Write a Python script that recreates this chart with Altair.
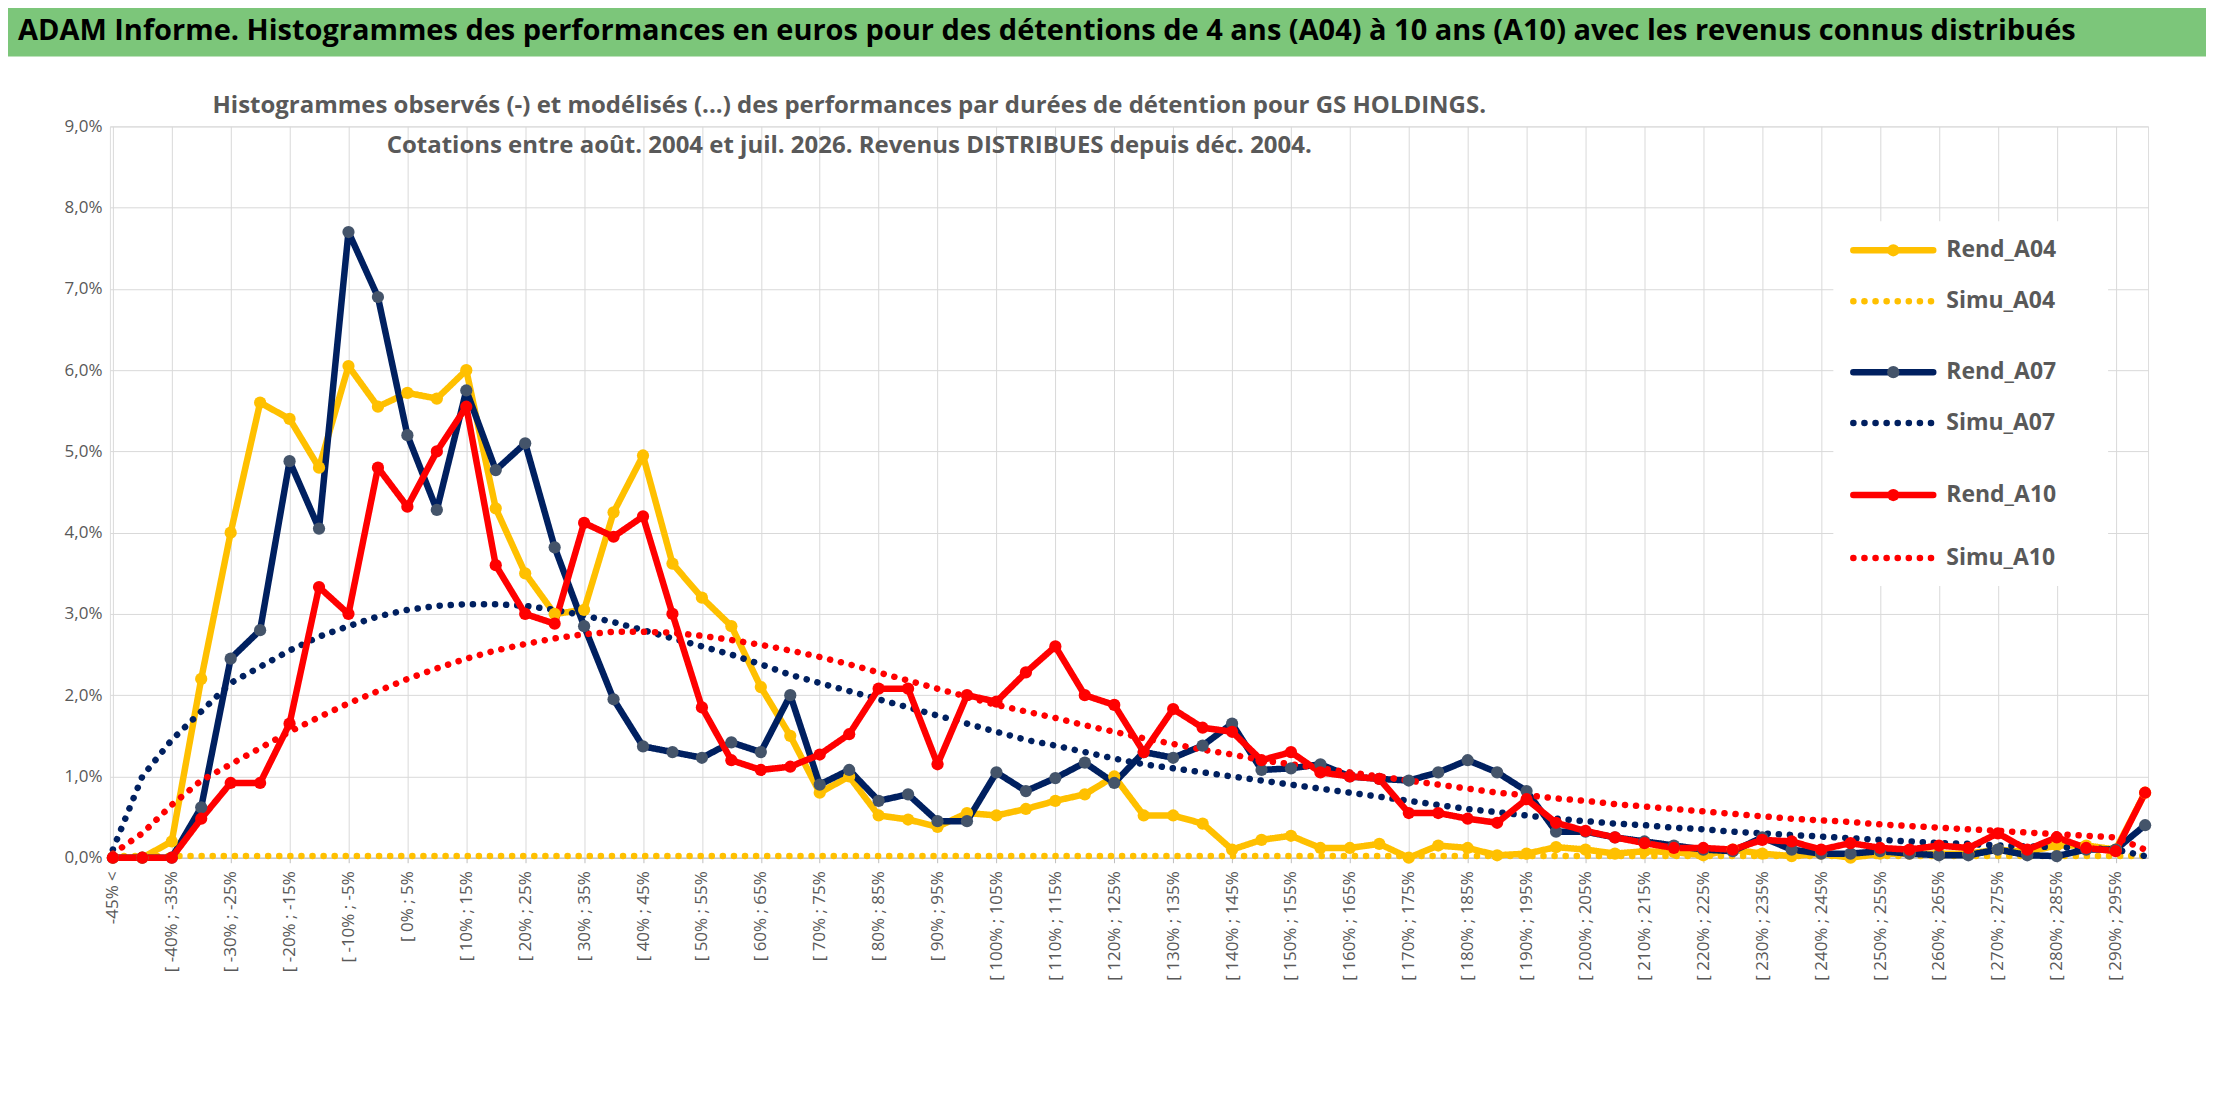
import altair as alt
import pandas as pd

cats = ["-45% <"] + [f"[ {a}% ; {a+5}%" for a in range(-45, 300, 5)]

rend_a04 = [0, 0, 0.2, 2.2, 4.0, 5.6, 5.4, 4.8, 6.05, 5.55, 5.72, 5.65, 6.0, 4.3, 3.5, 3.0, 3.05, 4.25, 4.95, 3.62,
            3.2, 2.85, 2.1, 1.5, 0.8, 1.0, 0.52, 0.47, 0.38, 0.55, 0.52, 0.6, 0.7, 0.78, 1.0, 0.52, 0.52, 0.42, 0.1, 0.22,
            0.27, 0.12, 0.12, 0.17, 0.0, 0.15, 0.12, 0.03, 0.05, 0.13, 0.1, 0.05, 0.08, 0.07, 0.03, 0.1, 0.05, 0.02, 0.05, 0.0,
            0.05, 0.05, 0.05, 0.05, 0.1, 0.07, 0.15, 0.15, 0.1, 0.8]
simu_a04 = [0.02, 0.02, 0.02, 0.02, 0.02, 0.02, 0.02, 0.02, 0.02, 0.02, 0.02, 0.02, 0.02, 0.02, 0.02, 0.02, 0.02, 0.02, 0.02, 0.02,
            0.02, 0.02, 0.02, 0.02, 0.02, 0.02, 0.02, 0.02, 0.02, 0.02, 0.02, 0.02, 0.02, 0.02, 0.02, 0.02, 0.02, 0.02, 0.02, 0.02,
            0.02, 0.02, 0.02, 0.02, 0.02, 0.02, 0.02, 0.02, 0.02, 0.02, 0.02, 0.02, 0.02, 0.02, 0.02, 0.02, 0.02, 0.02, 0.02, 0.02,
            0.02, 0.02, 0.02, 0.02, 0.02, 0.02, 0.02, 0.02, 0.02, 0.02]
rend_a07 = [0, 0, 0, 0.62, 2.45, 2.8, 4.88, 4.05, 7.7, 6.9, 5.2, 4.28, 5.75, 4.77, 5.1, 3.82, 2.85, 1.95, 1.37, 1.3,
            1.23, 1.42, 1.3, 2.0, 0.9, 1.08, 0.7, 0.78, 0.45, 0.45, 1.05, 0.82, 0.98, 1.17, 0.92, 1.3, 1.23, 1.38, 1.65, 1.08,
            1.1, 1.15, 1.0, 0.97, 0.95, 1.05, 1.2, 1.05, 0.82, 0.32, 0.32, 0.25, 0.2, 0.15, 0.1, 0.08, 0.25, 0.1, 0.05, 0.05,
            0.08, 0.05, 0.03, 0.03, 0.1, 0.03, 0.02, 0.1, 0.1, 0.4]
simu_a07 = [0.1, 1.0, 1.45, 1.8, 2.15, 2.35, 2.55, 2.72, 2.85, 2.97, 3.05, 3.1, 3.12, 3.12, 3.1, 3.05, 2.98, 2.9, 2.8, 2.7,
            2.6, 2.5, 2.38, 2.25, 2.15, 2.05, 1.95, 1.85, 1.75, 1.65, 1.55, 1.45, 1.38, 1.3, 1.22, 1.15, 1.1, 1.05, 1.0, 0.95,
            0.9, 0.85, 0.8, 0.75, 0.7, 0.65, 0.6, 0.56, 0.52, 0.48, 0.45, 0.42, 0.4, 0.37, 0.35, 0.32, 0.3, 0.28, 0.26, 0.24,
            0.22, 0.2, 0.18, 0.17, 0.15, 0.14, 0.13, 0.12, 0.1, 0.02]
rend_a10 = [0, 0, 0, 0.48, 0.92, 0.92, 1.65, 3.33, 3.0, 4.8, 4.32, 5.0, 5.55, 3.6, 3.0, 2.88, 4.12, 3.95, 4.2, 3.0,
            1.85, 1.2, 1.08, 1.12, 1.27, 1.52, 2.08, 2.08, 1.15, 2.0, 1.92, 2.28, 2.6, 2.0, 1.88, 1.3, 1.83, 1.6, 1.55, 1.2,
            1.3, 1.05, 1.0, 0.97, 0.55, 0.55, 0.48, 0.43, 0.72, 0.43, 0.33, 0.25, 0.18, 0.12, 0.12, 0.1, 0.22, 0.2, 0.1, 0.18,
            0.12, 0.1, 0.15, 0.12, 0.3, 0.1, 0.25, 0.12, 0.08, 0.8]
simu_a10 = [0.05, 0.3, 0.65, 0.95, 1.15, 1.35, 1.55, 1.73, 1.9, 2.05, 2.2, 2.33, 2.45, 2.55, 2.63, 2.7, 2.75, 2.78, 2.78, 2.77,
            2.73, 2.68, 2.62, 2.55, 2.47, 2.38, 2.28, 2.18, 2.08, 1.98, 1.88, 1.8, 1.72, 1.63, 1.55, 1.47, 1.4, 1.33, 1.27, 1.2,
            1.15, 1.1, 1.05, 1.0, 0.95, 0.9, 0.85, 0.8, 0.77, 0.73, 0.7, 0.66, 0.63, 0.6, 0.57, 0.54, 0.51, 0.48, 0.46, 0.44,
            0.41, 0.39, 0.37, 0.35, 0.33, 0.31, 0.29, 0.27, 0.25, 0.1]

series_names = ["Rend_A04", "Simu_A04", "Rend_A07", "Simu_A07", "Rend_A10", "Simu_A10"]
series_vals = [rend_a04, simu_a04, rend_a07, simu_a07, rend_a10, simu_a10]
colors = ["#FFC000", "#FFC000", "#002060", "#002060", "#FF0000", "#FF0000"]
rend_names = ["Rend_A04", "Rend_A07", "Rend_A10"]
point_colors = ["#FFC000", "#44546A", "#FF0000"]
legend_rows = [124, 175, 246, 297, 369, 432]

rows = []
for name, vals in zip(series_names, series_vals):
    for c, v in zip(cats, vals):
        rows.append({"cat": c, "val": v / 100, "series": name, "kind": name[:4]})
df = pd.DataFrame(rows)
leg_df = pd.DataFrame({"series": series_names, "ly": legend_rows, "kind": [s[:4] for s in series_names]})

FONT = "Open Sans"
GRAY = "#595959"

x = alt.X("cat:O", sort=cats, scale=alt.Scale(type="point", padding=0.1),
          axis=alt.Axis(title=None, values=cats[::2], labelAngle=-90, labelFontSize=17, labelColor=GRAY,
                        labelFont=FONT, grid=True, gridColor="#D9D9D9", tickColor="#BFBFBF",
                        domainColor="#BFBFBF", labelPadding=8))
y = alt.Y("val:Q", scale=alt.Scale(domain=[0, 0.09], nice=False),
          axis=alt.Axis(title=None, values=[i / 100 for i in range(10)],
                        labelExpr="replace(format(datum.value, '.1%'), '.', ',')",
                        labelFontSize=17, labelColor=GRAY, labelFont=FONT, gridColor="#D9D9D9",
                        domain=False, ticks=False, labelPadding=8))

color = alt.Color("series:N", scale=alt.Scale(domain=series_names, range=colors), legend=None)
dash = alt.StrokeDash("series:N", scale=alt.Scale(domain=series_names,
                      range=[[1, 0], [0.1, 11], [1, 0], [0.1, 11], [1, 0], [0.1, 11]]), legend=None)
fill = alt.Fill("series:N", scale=alt.Scale(domain=rend_names, range=point_colors), legend=None)

lines = alt.Chart(df).mark_line(strokeWidth=6.5, strokeCap="round", strokeJoin="round").encode(
    x=x, y=y, color=color, strokeDash=dash, order=alt.Order("series:N"))

pts = alt.Chart(df).transform_filter("datum.kind == 'Rend'").mark_circle(size=150, opacity=1).encode(
    x=x, y=y, fill=fill)

leg_bg = alt.Chart(pd.DataFrame({"a": [0]})).mark_rect(color="white").encode(
    x=alt.value(1725), x2=alt.value(2000), y=alt.value(95), y2=alt.value(460))
leg_lines = alt.Chart(leg_df).mark_rule(strokeWidth=6.5, strokeCap="round").encode(
    x=alt.value(1745), x2=alt.value(1825), y=alt.Y("ly:Q", scale=None), color=color, strokeDash=dash)
leg_pts = alt.Chart(leg_df).transform_filter("datum.kind == 'Rend'").mark_circle(size=150, opacity=1).encode(
    x=alt.value(1785), y=alt.Y("ly:Q", scale=None), fill=fill)
leg_txt = alt.Chart(leg_df).mark_text(fontSize=23, fontWeight="bold", font=FONT, color=GRAY,
                                      align="left", baseline="middle").encode(
    x=alt.value(1838), y=alt.Y("ly:Q", scale=None), text="series:N")

band = alt.Chart(pd.DataFrame({"a": [0]})).mark_rect(color="#7CC67A").encode(
    x=alt.value(-102), x2=alt.value(2098), y=alt.value(-120), y2=alt.value(-70))
title = alt.Chart(pd.DataFrame({"t": ["ADAM Informe. Histogrammes des performances en euros pour des détentions de 4 ans (A04) à 10 ans (A10) avec les revenus connus distribués"]})).mark_text(
    fontSize=29, fontWeight="bold", font=FONT, color="black", align="left", baseline="middle").encode(
    x=alt.value(-92), y=alt.value(-95), text="t:N")
sub = alt.Chart(pd.DataFrame({"t": ["Histogrammes observés (-) et modélisés (...) des performances par durées de détention pour GS HOLDINGS.",
                                    "Cotations entre août. 2004 et juil. 2026. Revenus DISTRIBUES depuis déc. 2004."],
                              "yy": [-20, 20]})).mark_text(
    fontSize=24, fontWeight="bold", font=FONT, color=GRAY, align="center", baseline="middle").encode(
    x=alt.value(740), y=alt.Y("yy:Q", scale=None), text="t:N")

chart = alt.layer(band, title, lines, pts, sub, leg_bg, leg_lines, leg_pts, leg_txt).properties(
    width=2040, height=732, padding={"left": 102, "top": 118, "right": 60, "bottom": 230},
    autosize=alt.AutoSizeParams(type="none")
).configure_view(stroke=None).configure(background="white")

chart.save("out.html", embed_options={"renderer": "svg", "actions": False})
